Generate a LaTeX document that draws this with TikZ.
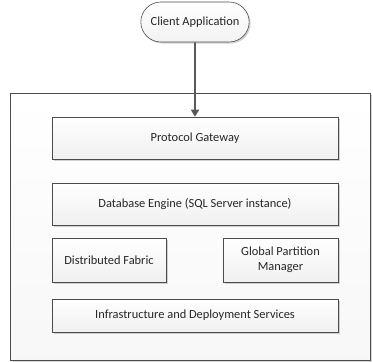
\documentclass[tikz,border=0pt]{standalone}
\usepackage{fontspec}
\setmainfont{Carlito}
\usetikzlibrary{arrows.meta, shadows, shapes.misc}

\begin{document}
\begin{tikzpicture}[x=1pt, y=-1pt, font=\fontsize{12.4}{14.5}\selectfont, thick,
  layer/.style={rectangle, draw=gray!60!black, line width=0.6pt, top color=white, bottom color=gray!12, text=black!85, align=center, drop shadow={shadow xshift=1.5pt, shadow yshift=-1.5pt, opacity=0.35}},
  client/.style={rounded rectangle, draw=gray!60!black, line width=0.6pt, top color=white, bottom color=gray!10, text=black!85, minimum width=115pt, minimum height=40pt, drop shadow={shadow xshift=1.5pt, shadow yshift=-1.5pt, opacity=0.35}}]
\useasboundingbox (0,0) rectangle (373,362);

% outer container
\node[rectangle, draw=gray!60!black, line width=0.6pt, top color=white, bottom color=gray!6, minimum width=360pt, minimum height=267pt, drop shadow={shadow xshift=1.5pt, shadow yshift=-1.5pt, opacity=0.3}] (frame) at (190,226.5) {};

\node[client] (client) at (195,22) {Client Application};

\node[layer, minimum width=286pt, minimum height=42pt] (gateway) at (195,138) {Protocol Gateway};
\node[layer, minimum width=286pt, minimum height=42pt] (engine) at (195,204) {Database Engine (SQL Server instance)};
\node[layer, minimum width=114pt, minimum height=44pt] (fabric) at (109,260) {Distributed Fabric};
\node[layer, minimum width=115pt, minimum height=44pt] (gpm) at (280.5,260) {Global Partition\\Manager};
\node[layer, minimum width=286pt, minimum height=33pt] (infra) at (195,315.5) {Infrastructure and Deployment Services};

\draw[-{Triangle[width=8pt,length=7pt]}, draw=black!65, fill=black!65, line width=1.6pt] (client) -- (gateway);
\end{tikzpicture}
\end{document}
